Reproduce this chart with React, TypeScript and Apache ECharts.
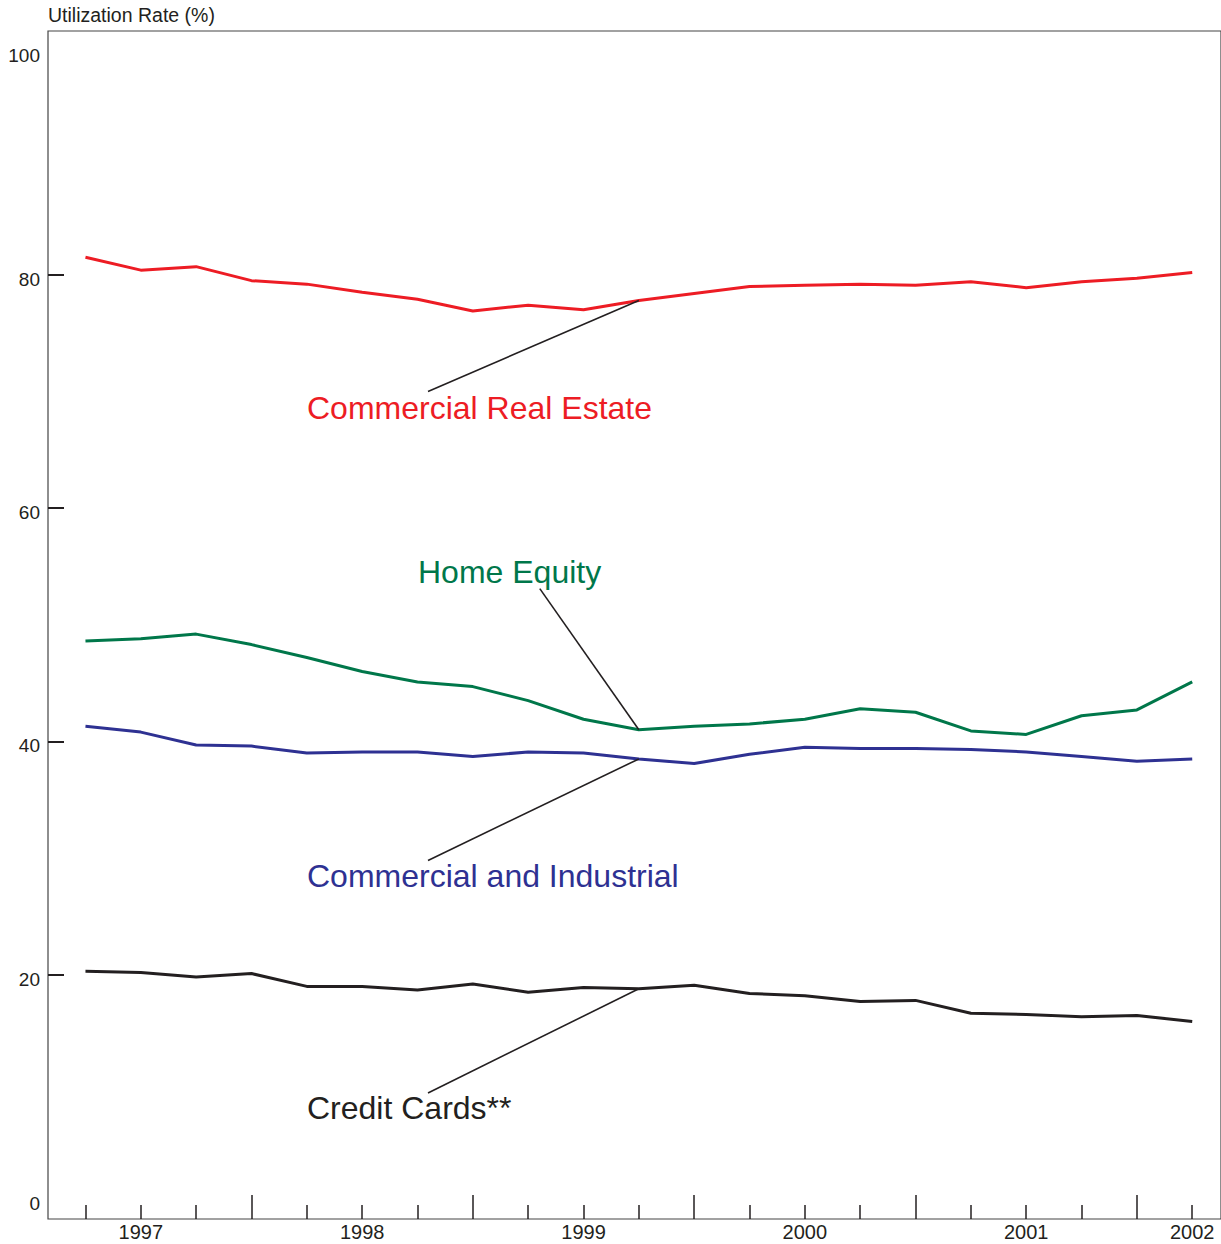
import React, { useEffect, useRef } from "react";
import * as echarts from "echarts";

// Quarterly observations, index 0..20
const commercialRealEstate = [81.5, 80.4, 80.7, 79.5, 79.2, 78.5, 77.9, 76.9, 77.4, 77.0, 77.8, 78.4, 79.0, 79.1, 79.2, 79.1, 79.4, 78.9, 79.4, 79.7, 80.2];
const homeEquity = [48.6, 48.8, 49.2, 48.3, 47.2, 46.0, 45.1, 44.7, 43.5, 41.9, 41.0, 41.3, 41.5, 41.9, 42.8, 42.5, 40.9, 40.6, 42.2, 42.7, 45.1];
const commercialIndustrial = [41.3, 40.8, 39.7, 39.6, 39.0, 39.1, 39.1, 38.7, 39.1, 39.0, 38.5, 38.1, 38.9, 39.5, 39.4, 39.4, 39.3, 39.1, 38.7, 38.3, 38.5];
const creditCards = [20.3, 20.2, 19.8, 20.1, 19.0, 19.0, 18.7, 19.2, 18.5, 18.9, 18.8, 19.1, 18.4, 18.2, 17.7, 17.8, 16.7, 16.6, 16.4, 16.5, 16.0];

const yearLabels = ["1997", "1998", "1999", "2000", "2001", "2002"];
const yearLabelIndex = [1, 5, 9, 13, 17, 20];
const yearBoundaryIndex = [3, 7, 11, 15, 19];
const yTickValues = [20, 40, 60, 80];
const yLabelValues = [0, 20, 40, 60, 80, 100];

const FONT = '"Liberation Sans", Arial, Helvetica, sans-serif';
const INK = "#231f20";

const toPairs = (arr: number[]) => arr.map((v, i) => [i, v]);

export default function App() {
  const ref = useRef<HTMLDivElement>(null);
  useEffect(() => {
    if (!ref.current) return;
    const chart = echarts.init(ref.current, null, { renderer: "svg" });
    const quarterIdx = commercialRealEstate.map((_, i) => i);
    const shortTicks = quarterIdx.filter((i) => !yearBoundaryIndex.includes(i));
    const xMin = -0.677;
    const xMax = 20.52;
    const leader = (a: number[], b: number[]) => ({
      silent: true,
      symbol: ["none", "none"],
      label: { show: false },
      lineStyle: { color: INK, width: 1.6, type: "solid" },
      data: [[{ coord: a }, { coord: b }]],
    });
    chart.setOption({
      animation: false,
      textStyle: { fontFamily: FONT },
      grid: {
        left: 48,
        right: 0,
        top: 31,
        bottom: 25,
        show: true,
        borderColor: "#444",
        borderWidth: 1.2,
      },
      xAxis: [
        {
          type: "value",
          min: xMin,
          max: xMax,
          axisLine: { show: false, onZero: false },
          splitLine: { show: false },
          axisTick: {
            show: true,
            inside: true,
            length: 14,
            customValues: shortTicks,
            lineStyle: { color: INK, width: 1.5 },
          },
          axisLabel: {
            customValues: yearLabelIndex,
            formatter: (v: number) => yearLabels[yearLabelIndex.indexOf(Math.round(v))] ?? "",
            fontSize: 20,
            fontFamily: FONT,
            color: INK,
            margin: 3,
          },
        },
        {
          type: "value",
          min: xMin,
          max: xMax,
          position: "bottom",
          axisLine: { show: false, onZero: false },
          splitLine: { show: false },
          axisLabel: { show: false },
          axisTick: {
            show: true,
            inside: true,
            length: 24,
            customValues: yearBoundaryIndex,
            lineStyle: { color: INK, width: 1.5 },
          },
        },
      ],
      yAxis: {
        type: "value",
        min: -0.94,
        max: 100.9,
        axisLine: { show: false, onZero: false },
        splitLine: { show: false },
        axisTick: {
          show: true,
          inside: true,
          length: 16,
          customValues: yTickValues,
          lineStyle: { color: INK, width: 2 },
        },
        axisLabel: {
          customValues: yLabelValues,
          margin: 8,
          formatter: (v: number) => {
            if (v === 100) return "{t|100}";
            if (v === 0) return "{b|0}";
            return "{n|" + v + "}";
          },
          rich: {
            t: { fontSize: 19, fontFamily: FONT, color: INK, padding: [28, 0, 0, 0] },
            b: { fontSize: 19, fontFamily: FONT, color: INK, padding: [0, 0, 10, 0] },
            n: { fontSize: 19, fontFamily: FONT, color: INK, padding: [9, 0, 0, 0] },
          },
        },
      },
      series: [
        {
          name: "Commercial Real Estate",
          type: "line",
          symbol: "none",
          data: toPairs(commercialRealEstate),
          lineStyle: { color: "#ed1c24", width: 3 },
          markLine: leader([6.19, 70.0], [10, commercialRealEstate[10]]),
        },
        {
          name: "Home Equity",
          type: "line",
          symbol: "none",
          data: toPairs(homeEquity),
          lineStyle: { color: "#00774a", width: 3 },
          markLine: leader([8.21, 53.1], [10, homeEquity[10]]),
        },
        {
          name: "Commercial and Industrial",
          type: "line",
          symbol: "none",
          data: toPairs(commercialIndustrial),
          lineStyle: { color: "#2e3192", width: 3 },
          markLine: leader([6.19, 29.8], [10, commercialIndustrial[10]]),
        },
        {
          name: "Credit Cards**",
          type: "line",
          symbol: "none",
          data: toPairs(creditCards),
          lineStyle: { color: INK, width: 3 },
          markLine: leader([6.19, 9.86], [10, creditCards[10]]),
        },
      ],
      graphic: [
        {
          type: "text",
          x: 48,
          y: 15,
          style: { text: "Utilization Rate (%)", fontSize: 19.5, fontFamily: FONT, fill: INK, verticalAlign: "middle" },
        },
        {
          type: "text",
          x: 307,
          y: 408,
          style: { text: "Commercial Real Estate", fontSize: 32, fontFamily: FONT, fill: "#ed1c24", verticalAlign: "middle" },
        },
        {
          type: "text",
          x: 418,
          y: 572,
          style: { text: "Home Equity", fontSize: 32, fontFamily: FONT, fill: "#00774a", verticalAlign: "middle" },
        },
        {
          type: "text",
          x: 307,
          y: 876,
          style: { text: "Commercial and Industrial", fontSize: 32, fontFamily: FONT, fill: "#2e3192", verticalAlign: "middle" },
        },
        {
          type: "text",
          x: 307,
          y: 1108,
          style: { text: "Credit Cards**", fontSize: 32, fontFamily: FONT, fill: INK, verticalAlign: "middle" },
        },
      ],
    });
    return () => chart.dispose();
  }, []);
  return (
    <div
      ref={ref}
      style={{ position: "absolute", left: 0, top: 0, width: 1221, height: 1244 }}
    />
  );
}
